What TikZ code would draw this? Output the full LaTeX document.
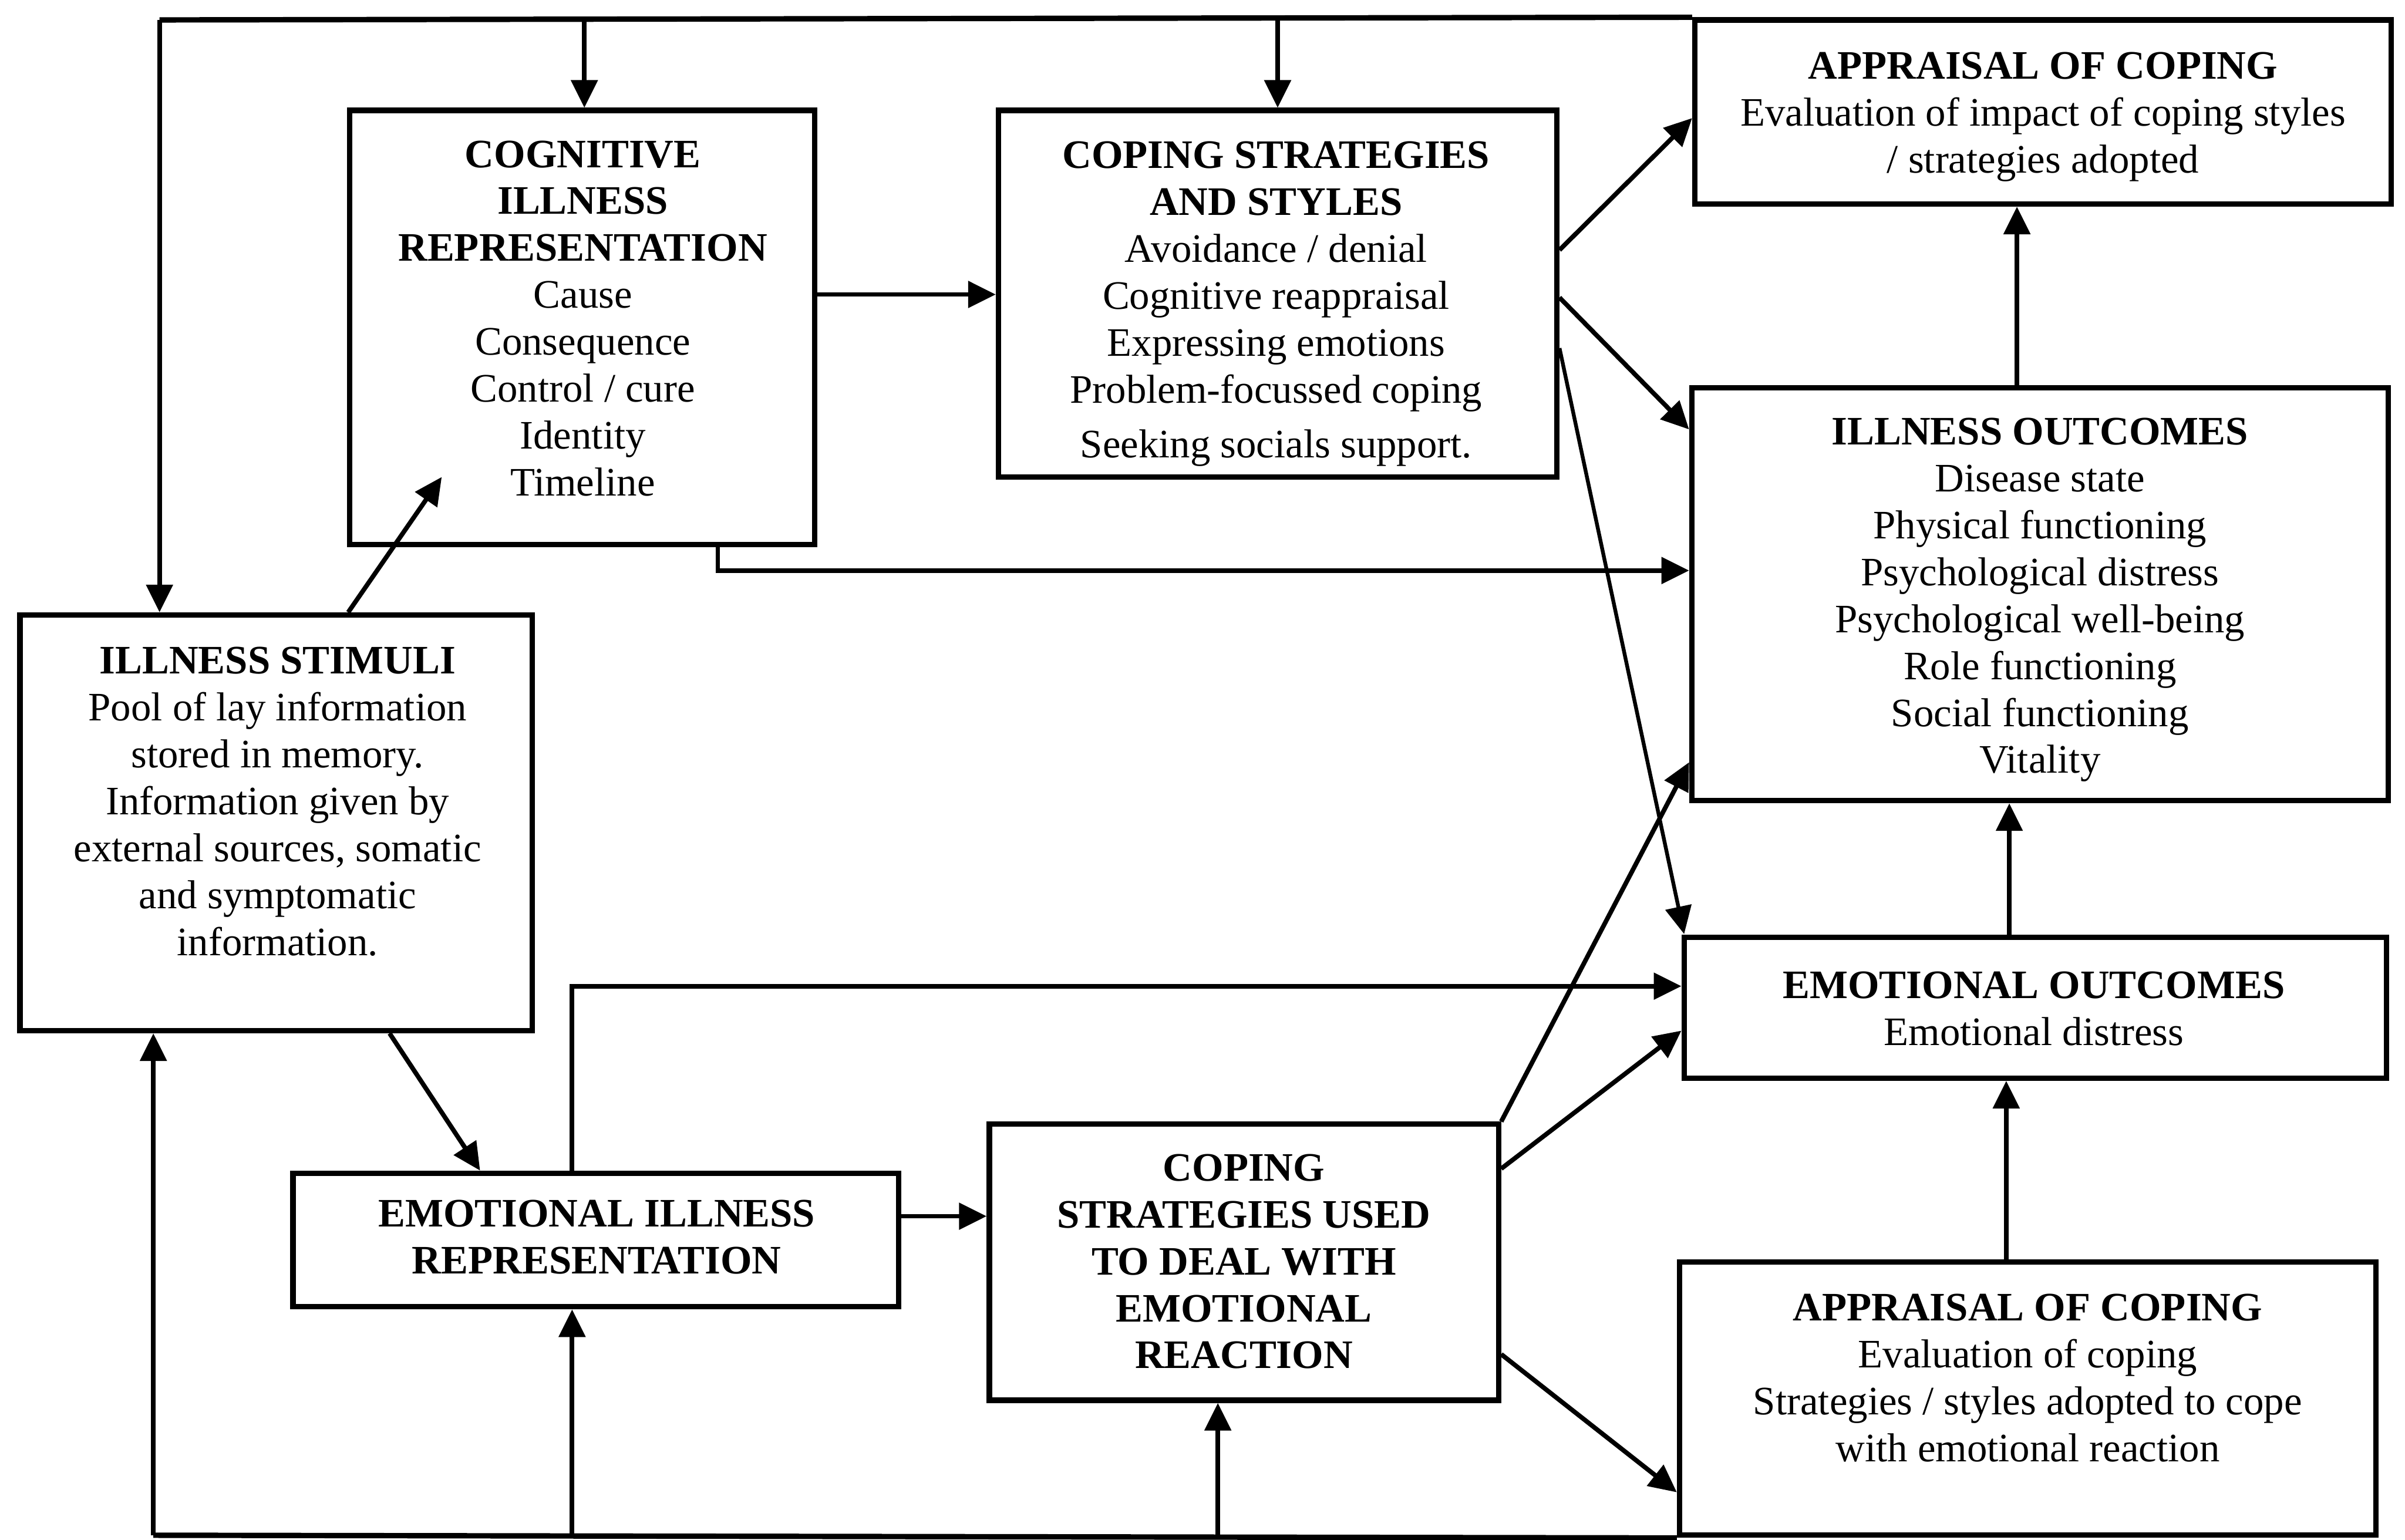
\documentclass[tikz,border=0pt]{standalone}
\usepackage{fontspec}
\setmainfont{Liberation Serif}
\usetikzlibrary{arrows.meta,fit}
\begin{document}
\begin{tikzpicture}[x=0.02cm,y=-0.02cm,
  box/.style={draw, line width=2pt, rectangle, inner sep=0pt},
  txt/.style={align=center, inner sep=0pt, font=\fontsize{15pt}{17.4pt}\selectfont,
    execute at begin node=\strut, execute at end node=\strut},
  ln/.style={line width=2pt},
  arr/.style={line width=1.7pt, -{Triangle[length=0.36cm,width=0.34cm]}}]
\useasboundingbox (0,0) rectangle (1568,1004);

% ---------- boxes ----------
\node[box, fit={(228,72)(531,355)}] (cog) {};
\node[box, fit={(651,72)(1015,311)}] (cop) {};
\node[box, fit={(1105,13)(1559,133)}] (apt) {};
\node[box, fit={(1103,253)(1557,522)}] (ill) {};
\node[box, fit={(1098,611)(1556,703)}] (emo) {};
\node[box, fit={(1095,823)(1549,1001)}] (apb) {};
\node[box, fit={(13,401)(347,672)}] (stim) {};
\node[box, fit={(191,765)(586,852)}] (eir) {};
\node[box, fit={(645,733)(977,913)}] (csu) {};

% ---------- texts ----------
\node[txt] (cogT) at (380,212) {\textbf{COGNITIVE}\\\textbf{ILLNESS}\\\textbf{REPRESENTATION}\\Cause\\Consequence\\Control / cure\\Identity\\Timeline};
\node[txt] (copT) at (832,200) {\textbf{COPING STRATEGIES}\\\textbf{AND STYLES}\\Avoidance / denial\\Cognitive reappraisal\\Expressing emotions\\Problem-focussed coping\\[3pt]Seeking socials support.};
\node[txt] (aptT) at (1332,78) {\textbf{APPRAISAL OF COPING}\\Evaluation of impact of coping styles\\/ strategies adopted};
\node[txt] (illT) at (1330,393) {\textbf{ILLNESS OUTCOMES}\\Disease state\\Physical functioning\\Psychological distress\\Psychological well-being\\Role functioning\\Social functioning\\Vitality};
\node[txt] (emoT) at (1326,662) {\textbf{EMOTIONAL OUTCOMES}\\Emotional distress};
\node[txt] (apbT) at (1322,903) {\textbf{APPRAISAL OF COPING}\\Evaluation of coping\\Strategies / styles adopted to cope\\with emotional reaction};
\node[txt] (stimT) at (181,527) {\textbf{ILLNESS STIMULI}\\Pool of lay information\\stored in memory.\\Information given by\\external sources, somatic\\and symptomatic\\information.};
\node[txt] (eirT) at (389,811) {\textbf{EMOTIONAL ILLNESS}\\\textbf{REPRESENTATION}};
\node[txt] (csuT) at (811,827) {\textbf{COPING}\\\textbf{STRATEGIES USED}\\\textbf{TO DEAL WITH}\\\textbf{EMOTIONAL}\\\textbf{REACTION}};

% ---------- helper coordinates ----------
\coordinate (tl) at (104,13);
\coordinate (t1) at (381,13);
\coordinate (t2) at (833,13);
\coordinate (bl) at (100,1001);
\coordinate (b1) at (373,1001);
\coordinate (b2) at (794,1001);
\coordinate (x227) at (227,0);
\coordinate (x254) at (254,0);
\coordinate (x313) at (313,0);
\coordinate (x373) at (373,0);
\coordinate (x468) at (468,0);
\coordinate (x1315) at (1315,0);
\coordinate (x1310) at (1310,0);
\coordinate (x1308) at (1308,0);
\coordinate (y77) at (0,77);
\coordinate (y163) at (0,163);
\coordinate (y192) at (0,192);
\coordinate (y194) at (0,194);
\coordinate (y227) at (0,227);
\coordinate (y280) at (0,280);
\coordinate (y372) at (0,372);
\coordinate (y497) at (0,497);
\coordinate (y643) at (0,643);
\coordinate (y672) at (0,672);
\coordinate (y762) at (0,762);
\coordinate (y793) at (0,793);
\coordinate (y883) at (0,883);
\coordinate (y973) at (0,973);
\coordinate (cogin) at (288,311);
\coordinate (emoin) at (1098,609);

% ---------- feedback loops ----------
\draw[ln] (apt.north west) -- (tl);
\draw[arr] (tl) -- (tl |- stim.north);
\draw[arr] (t1) -- (t1 |- cog.north);
\draw[arr] (t2) -- (t2 |- cop.north);
\draw[ln] (apb.south west) -- (bl);
\draw[arr] (bl) -- (bl |- stim.south);
\draw[arr] (b1) -- (b1 |- eir.south);
\draw[arr] (b2) -- (b2 |- csu.south);

% ---------- connectors ----------
\draw[arr] (stim.north -| x227) -- (cogin);
\draw[arr] (stim.south -| x254) -- (eir.north -| x313);
\draw[arr] (cog.east |- y192) -- (cop.west |- y192);
\draw[arr] (cog.south -| x468) -- (x468 |- y372) -- (ill.west |- y372);
\draw[arr] (cop.east |- y163) -- (apt.west |- y77);
\draw[arr] (cop.east |- y194) -- (ill.west |- y280);
\draw[arr, line width=1.4pt] (cop.east |- y227) -- (emoin);
\draw[arr] (eir.north -| x373) -- (x373 |- y643) -- (emo.west |- y643);
\draw[arr] (eir.east |- y793) -- (csu.west |- y793);
\draw[arr] (csu.north east) -- (ill.west |- y497);
\draw[arr] (csu.east |- y762) -- (emo.west |- y672);
\draw[arr] (csu.east |- y883) -- (apb.west |- y973);
\draw[arr] (ill.north -| x1315) -- (apt.south -| x1315);
\draw[arr] (emo.north -| x1310) -- (ill.south -| x1310);
\draw[arr] (apb.north -| x1308) -- (emo.south -| x1308);
\end{tikzpicture}
\end{document}
